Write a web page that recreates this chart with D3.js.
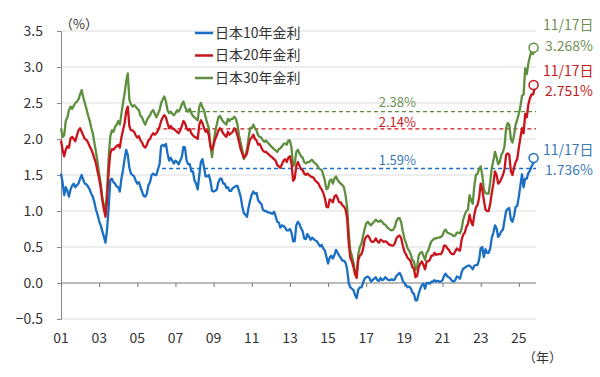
<!DOCTYPE html>
<html>
<head>
<meta charset="utf-8">
<script src="https://cdn.jsdelivr.net/npm/d3@7"></script>
<style>
  body { margin: 0; background: #fff; }
  svg { display: block; }
  text { font-family: "Noto Sans CJK JP", "Noto Sans", sans-serif; }
</style>
</head>
<body>
<svg id="chart" width="600" height="377"></svg>
<script>
// monthly yields from 2001-01, last value is 2025-11-17
const jgb10 = [
  1.52,1.40,1.22,1.33,1.28,1.20,1.30,1.35,1.38,1.33,1.36,1.38,
  1.45,1.50,1.43,1.38,1.37,1.34,1.30,1.24,1.20,1.12,1.02,0.95,
  0.86,0.80,0.72,0.64,0.56,0.75,1.05,1.43,1.45,1.40,1.38,1.34,
  1.33,1.27,1.45,1.57,1.72,1.85,1.78,1.60,1.52,1.50,1.48,1.42,
  1.38,1.40,1.33,1.27,1.21,1.20,1.24,1.36,1.40,1.50,1.52,1.50,
  1.50,1.58,1.65,1.90,1.92,1.90,1.93,1.80,1.70,1.74,1.70,1.66,
  1.70,1.68,1.65,1.70,1.75,1.89,1.88,1.70,1.65,1.65,1.55,1.55,
  1.42,1.38,1.30,1.50,1.68,1.72,1.60,1.48,1.48,1.50,1.42,1.28,
  1.27,1.28,1.30,1.40,1.45,1.45,1.38,1.38,1.32,1.33,1.28,1.28,
  1.32,1.33,1.35,1.35,1.28,1.20,1.07,0.97,0.95,0.92,1.05,1.15,
  1.23,1.27,1.24,1.25,1.15,1.12,1.10,1.02,1.00,1.00,0.98,0.98,
  0.97,0.96,0.99,0.93,0.85,0.84,0.77,0.80,0.79,0.77,0.73,0.73,
  0.75,0.70,0.58,0.58,0.80,0.85,0.82,0.76,0.72,0.62,0.61,0.68,
  0.64,0.60,0.63,0.61,0.59,0.58,0.54,0.51,0.53,0.48,0.45,0.36,
  0.27,0.35,0.38,0.34,0.39,0.46,0.42,0.38,0.35,0.31,0.31,0.28,
  0.19,0.00,-0.06,-0.08,-0.10,-0.17,-0.21,-0.09,-0.06,-0.06,0.00,0.06,
  0.08,0.09,0.07,0.02,0.04,0.06,0.08,0.04,0.03,0.07,0.04,0.05,
  0.08,0.06,0.04,0.04,0.05,0.04,0.05,0.10,0.12,0.14,0.10,0.03,
  0.00,-0.03,-0.06,-0.05,-0.07,-0.13,-0.15,-0.24,-0.24,-0.15,-0.08,-0.03,
  -0.01,-0.08,0.00,0.00,-0.01,0.02,0.02,0.04,0.02,0.03,0.02,0.02,
  0.04,0.10,0.13,0.09,0.08,0.06,0.03,0.02,0.04,0.09,0.08,0.06,
  0.15,0.20,0.21,0.23,0.24,0.24,0.22,0.19,0.24,0.25,0.25,0.32,
  0.48,0.50,0.36,0.47,0.42,0.42,0.48,0.63,0.70,0.80,0.76,0.64,
  0.67,0.72,0.74,0.87,1.00,1.03,1.04,0.88,0.85,0.93,1.06,1.07,
  1.20,1.36,1.51,1.33,1.45,1.45,1.53,1.56,1.62,1.66,1.736
];
const jgb20 = [
  1.98,1.85,1.76,1.85,1.90,1.88,2.01,2.03,2.00,1.97,2.05,2.12,
  2.15,2.10,2.05,2.00,1.99,1.95,1.90,1.86,1.80,1.73,1.66,1.55,
  1.45,1.32,1.15,1.02,0.92,1.15,1.55,1.80,1.86,1.85,1.88,1.90,
  1.92,1.88,2.02,2.12,2.22,2.38,2.45,2.18,2.12,2.12,2.10,2.05,
  2.02,2.04,1.98,1.95,1.90,1.88,1.92,1.98,2.00,2.05,2.08,2.06,
  2.08,2.12,2.17,2.25,2.30,2.33,2.30,2.22,2.15,2.18,2.15,2.14,
  2.12,2.10,2.08,2.12,2.18,2.25,2.22,2.15,2.12,2.14,2.08,2.05,
  2.03,2.02,2.00,2.20,2.26,2.22,2.15,2.10,2.12,2.05,1.90,1.85,
  1.92,2.00,2.05,2.12,2.15,2.12,2.08,2.05,2.03,2.10,2.06,2.08,
  2.10,2.15,2.12,2.05,1.96,1.86,1.80,1.74,1.76,1.80,1.92,2.00,
  2.02,2.06,2.00,1.98,1.92,1.93,1.88,1.84,1.82,1.82,1.80,1.78,
  1.76,1.74,1.72,1.70,1.64,1.62,1.60,1.65,1.70,1.72,1.68,1.74,
  1.76,1.66,1.42,1.45,1.62,1.68,1.63,1.58,1.57,1.52,1.50,1.52,
  1.50,1.48,1.47,1.46,1.42,1.40,1.38,1.33,1.30,1.25,1.18,1.06,
  1.05,1.16,1.15,1.12,1.20,1.22,1.18,1.12,1.12,1.08,1.06,1.02,
  0.90,0.55,0.35,0.30,0.22,0.12,0.07,0.32,0.38,0.40,0.47,0.60,
  0.64,0.66,0.63,0.58,0.57,0.58,0.62,0.58,0.56,0.60,0.59,0.57,
  0.58,0.57,0.54,0.53,0.52,0.52,0.55,0.62,0.65,0.66,0.62,0.52,
  0.44,0.40,0.35,0.33,0.30,0.22,0.20,0.08,0.10,0.22,0.27,0.30,
  0.25,0.19,0.30,0.30,0.32,0.38,0.38,0.42,0.39,0.40,0.40,0.40,
  0.44,0.52,0.52,0.48,0.46,0.42,0.40,0.40,0.44,0.48,0.46,0.45,
  0.60,0.67,0.70,0.78,0.82,0.95,0.85,0.80,0.95,1.05,1.08,1.18,
  1.38,1.30,1.15,1.02,1.00,1.00,1.10,1.25,1.38,1.55,1.50,1.38,
  1.40,1.45,1.50,1.58,1.78,1.80,1.78,1.55,1.50,1.60,1.68,1.72,
  1.88,2.02,2.15,2.08,2.35,2.30,2.48,2.57,2.62,2.62,2.751
];
const jgb30 = [
  2.15,2.03,2.05,2.25,2.30,2.40,2.45,2.42,2.46,2.50,2.52,2.55,
  2.62,2.68,2.58,2.50,2.42,2.33,2.26,2.16,2.08,1.95,1.82,1.68,
  1.52,1.38,1.18,1.08,0.99,1.30,1.75,2.03,2.12,2.10,2.17,2.20,
  2.25,2.20,2.35,2.50,2.63,2.80,2.91,2.55,2.48,2.45,2.47,2.45,
  2.42,2.40,2.32,2.30,2.24,2.20,2.26,2.30,2.33,2.38,2.40,2.35,
  2.30,2.35,2.40,2.50,2.55,2.59,2.52,2.40,2.36,2.38,2.35,2.33,
  2.36,2.40,2.38,2.42,2.48,2.52,2.45,2.40,2.38,2.42,2.36,2.32,
  2.30,2.28,2.26,2.45,2.50,2.44,2.40,2.30,2.22,2.15,1.90,1.75,
  1.95,2.10,2.20,2.30,2.32,2.28,2.24,2.22,2.20,2.28,2.25,2.28,
  2.28,2.31,2.28,2.20,2.05,1.95,1.85,1.72,1.78,1.85,2.02,2.15,
  2.15,2.20,2.15,2.12,2.05,2.03,2.02,1.98,1.96,1.98,1.95,1.93,
  1.90,1.88,1.86,1.84,1.82,1.86,1.87,1.90,1.93,1.94,1.92,1.98,
  1.98,1.88,1.62,1.65,1.82,1.85,1.80,1.76,1.74,1.68,1.66,1.68,
  1.68,1.70,1.71,1.68,1.66,1.64,1.60,1.58,1.57,1.50,1.42,1.30,
  1.32,1.42,1.44,1.38,1.45,1.48,1.43,1.40,1.38,1.36,1.33,1.22,
  1.05,0.70,0.45,0.38,0.28,0.15,0.13,0.40,0.50,0.55,0.65,0.75,
  0.83,0.85,0.82,0.80,0.83,0.85,0.88,0.86,0.85,0.87,0.85,0.82,
  0.81,0.78,0.76,0.74,0.73,0.74,0.78,0.86,0.90,0.90,0.84,0.72,
  0.62,0.56,0.48,0.45,0.40,0.32,0.30,0.18,0.22,0.38,0.42,0.43,
  0.38,0.32,0.42,0.45,0.52,0.58,0.60,0.62,0.62,0.63,0.63,0.64,
  0.66,0.72,0.74,0.70,0.69,0.68,0.67,0.65,0.66,0.70,0.70,0.69,
  0.75,0.88,0.95,1.00,1.02,1.22,1.15,1.10,1.35,1.50,1.52,1.58,
  1.62,1.50,1.30,1.25,1.24,1.24,1.40,1.60,1.70,1.82,1.75,1.65,
  1.68,1.78,1.82,1.90,2.15,2.22,2.20,2.00,1.95,2.05,2.20,2.27,
  2.35,2.45,2.60,2.62,2.98,2.90,3.05,3.15,3.22,3.18,3.268
];

const seriesNames = ["日本10年金利", "日本20年金利", "日本30年金利"];
const seriesColors = ["#1a6fc4", "#c9141c", "#5e8f3e"];
const labelColors = ["#3b78b8", "#c41a1a", "#6f9156"];
const endLabels = ["1.736%", "2.751%", "3.268%"];
const endDate = "11/17日";
const refLevels = [1.59, 2.14, 2.38];
const refLabels = ["1.59%", "2.14%", "2.38%"];
const refStarts = [2006.3, 2006.0, 2007.5];
const yTicks = [-0.5, 0, 0.5, 1, 1.5, 2, 2.5, 3, 3.5];
const xTicks = [2001, 2003, 2005, 2007, 2009, 2011, 2013, 2015, 2017, 2019, 2021, 2023, 2025];
const lastDay = 2025 + (10 + 16 / 30) / 12;

const svg = d3.select("#chart");

const x = d3.scaleLinear().domain([2001, 2025.9]).range([61, 536]);
const y = d3.scaleLinear().domain([-0.5, 3.5]).range([319, 31]);

function toPoints(arr) {
  return arr.map((v, i) => ({ t: i === arr.length - 1 ? lastDay : 2001 + i / 12, v: v }));
}
const series = [jgb10, jgb20, jgb30].map(toPoints);

// grid
svg.append("g")
  .selectAll("line")
  .data(yTicks.filter(d => d !== 0))
  .join("line")
  .attr("x1", x.range()[0]).attr("x2", x.range()[1])
  .attr("y1", d => y(d)).attr("y2", d => y(d))
  .attr("stroke", "#dcdcdc").attr("stroke-width", 1);

// y axis
const yAxis = svg.append("g")
  .attr("transform", `translate(${x.range()[0]},0)`)
  .call(d3.axisLeft(y).tickValues(yTicks).tickFormat(d3.format(".1f")).tickSize(4).tickPadding(14));
yAxis.select(".domain").attr("stroke", "#888");
yAxis.selectAll(".tick line").attr("stroke", "#888");
yAxis.selectAll(".tick text")
  .attr("fill", "#333").style("font-size", "14px")
  .text(d => d < 0 ? "−" + d3.format(".1f")(-d) : d3.format(".1f")(d));

// zero line with year ticks
const xAxis = svg.append("g")
  .attr("transform", `translate(0,${y(0)})`)
  .call(d3.axisBottom(x).tickValues(xTicks).tickSize(4).tickFormat(""));
xAxis.select(".domain").attr("stroke", "#777").attr("d", `M${x.range()[0]},0H${x.range()[1]}`);
xAxis.selectAll(".tick line").attr("stroke", "#777");

svg.append("g")
  .selectAll("text")
  .data(xTicks)
  .join("text")
  .attr("x", d => x(d)).attr("y", 338)
  .attr("dy", "0.35em")
  .attr("text-anchor", "middle")
  .attr("fill", "#333").style("font-size", "14px")
  .text(d => d3.format("02d")(d % 100));

svg.append("text").attr("x", 523).attr("y", 357).attr("dy", "0.35em")
  .attr("fill", "#333").style("font-size", "13px").text("（年）");
svg.append("text").attr("x", 60).attr("y", 24).attr("dy", "0.35em")
  .attr("fill", "#333").style("font-size", "13px").text("（%）");

// reference dashed lines
const refLabelY = [160, 122, 102.5];
[0, 1, 2].forEach(i => {
  svg.append("line")
    .attr("x1", x(refStarts[i])).attr("x2", x.range()[1])
    .attr("y1", y(refLevels[i])).attr("y2", y(refLevels[i]))
    .attr("stroke", seriesColors[i]).attr("stroke-width", 1.3)
    .attr("stroke-dasharray", "4,3");
  svg.append("text")
    .attr("x", 416).attr("y", refLabelY[i])
    .attr("dy", "0.35em")
    .attr("text-anchor", "end")
    .attr("fill", labelColors[i]).style("font-size", "13px")
    .text(refLabels[i]);
});

// lines (30Y drawn first, 10Y on top)
const line = d3.line().x(d => x(d.t)).y(d => y(d.v));
[2, 1, 0].forEach(i => {
  svg.append("path")
    .datum(series[i])
    .attr("fill", "none")
    .attr("stroke", seriesColors[i])
    .attr("stroke-width", 2.3)
    .attr("stroke-linejoin", "round")
    .attr("d", line);
});

// end markers and labels
const endOffsets = [[-8, 12], [-14, 6], [-23, -2]];
[0, 1, 2].forEach(i => {
  const last = series[i][series[i].length - 1];
  const cx = x(last.t) - 2, cy = y(last.v);
  svg.append("circle")
    .attr("cx", cx).attr("cy", cy).attr("r", 4.5)
    .attr("fill", "#fff").attr("stroke", seriesColors[i]).attr("stroke-width", 1.5);
  svg.append("text")
    .attr("x", 543).attr("y", cy + endOffsets[i][0]).attr("dy", "0.35em")
    .attr("fill", labelColors[i]).style("font-size", "14px").text(endDate);
  svg.append("text")
    .attr("x", 545).attr("y", cy + endOffsets[i][1]).attr("dy", "0.35em")
    .attr("fill", labelColors[i]).style("font-size", "14px").text(endLabels[i]);
});

// legend
const legend = svg.append("g").attr("transform", "translate(195,33)");
seriesNames.forEach((name, i) => {
  const g = legend.append("g").attr("transform", `translate(0,${i * 22.5})`);
  g.append("line").attr("x1", 0).attr("x2", 18).attr("y1", 0).attr("y2", 0)
    .attr("stroke", seriesColors[i]).attr("stroke-width", 2.5);
  g.append("text").attr("x", 20).attr("y", 0).attr("dy", "0.35em")
    .attr("fill", "#333").style("font-size", "14px").text(name);
});
</script>
</body>
</html>
